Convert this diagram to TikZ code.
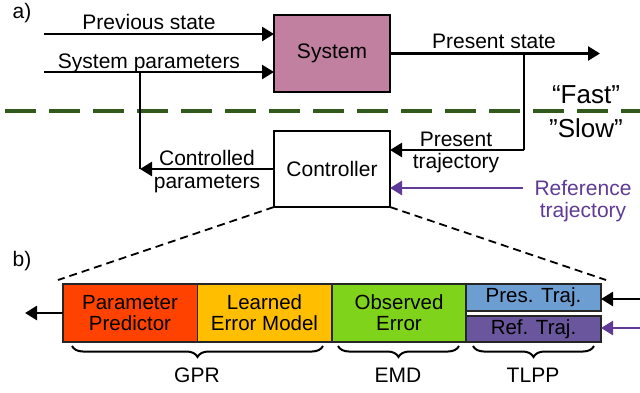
\documentclass[tikz,border=0pt]{standalone}
\usepackage{fontspec}
\setmainfont{Liberation Sans}
\usetikzlibrary{arrows.meta,decorations.pathreplacing}
\definecolor{sysc}{RGB}{193,128,160}
\definecolor{ppc}{RGB}{255,66,0}
\definecolor{lemc}{RGB}{255,190,0}
\definecolor{oec}{RGB}{127,211,27}
\definecolor{ptc}{RGB}{108,158,210}
\definecolor{rtc}{RGB}{106,86,156}
\definecolor{purp}{RGB}{95,58,150}
\definecolor{dgreen}{RGB}{50,90,28}
\begin{document}
\begin{tikzpicture}[x=1pt,y=-1pt,
  txt/.style={font=\fontsize{21}{23}\selectfont, inner sep=0pt},
  big/.style={font=\fontsize{26}{28}\selectfont, inner sep=0pt},
  arr/.style={line width=2.6pt, -{Triangle[length=12pt,width=14pt]}},
  ln/.style={line width=2.6pt},
  bigbox/.style={draw, line width=2.6pt, inner sep=0pt, outer sep=0pt, font=\fontsize{21}{23}\selectfont},
  cell/.style={draw=black!85, line width=1.5pt, inner sep=0pt, outer sep=0pt, align=center, font=\fontsize{20.5}{21}\selectfont},
  br/.style={line width=2pt, decorate, decoration={brace, amplitude=11pt, mirror}}
]
\useasboundingbox (0,0) rectangle (640,392);

% labels a) b)
\node[txt] (la) at (22,13) {a)};
\node[txt] (lb) at (22,261) {b)};

% main boxes
\node[bigbox, fill=sysc, minimum width=116pt, minimum height=77pt] (sys) at (332,53.5) {System};
\node[bigbox, fill=white, minimum width=116pt, minimum height=76pt] (ctrl) at (332,169) {Controller};

% fast/slow separator
\coordinate (gl) at (5,111);
\coordinate (gr) at (640,111);
\draw[dgreen, line width=4pt, dash pattern=on 31pt off 13pt] (gl) -- (gr);
\node[big, anchor=base] (fast) at (586,103) {“Fast”};
\node[big, anchor=base] (slow) at (586,137) {”Slow”};

% inputs to system
\coordinate (ps0) at (44,34);
\coordinate (sp0) at (44,72);
\draw[arr] (ps0) -- (sys.west |- ps0);
\draw[arr] (sp0) -- (sys.west |- sp0);
\node[txt, anchor=base] (tps) at (149,29) {Previous state};
\node[txt, anchor=base] (tsp) at (149,68) {System parameters};

% present state
\coordinate (psout) at (600,53.5);
\coordinate (pbr) at (524,53.5);
\coordinate (pdn) at (524,150);
\draw[arr] (sys.east) -- (psout);
\node[txt, anchor=base] (tpst) at (494,48) {Present state};
\draw[ln] (pbr) -- (pdn);
\draw[arr] (pdn) -- (ctrl.east |- pdn);
\node[txt, anchor=base] (tpt1) at (456,146) {Present};
\node[txt, anchor=base] (tpt2) at (456,168) {trajectory};

% reference trajectory
\coordinate (ref0) at (523,188);
\draw[arr, purp] (ref0) -- (ctrl.east |- ref0);
\node[txt, anchor=base, text=purp] (tr1) at (583,195) {Reference};
\node[txt, anchor=base, text=purp] (tr2) at (583,217) {trajectory};

% controlled parameters
\coordinate (cp) at (140,169);
\coordinate (cpup) at (140,72);
\draw[arr] (ctrl.west) -- (cp);
\draw[ln] (cpup) -- (cp);
\node[txt, anchor=base] (tcp1) at (207,165) {Controlled};
\node[txt, anchor=base] (tcp2) at (207,188) {parameters};

% zoom lines
\coordinate (zl) at (58,280);
\coordinate (zr) at (606,280);
\draw[line width=1.8pt, dash pattern=on 8pt off 5pt] (ctrl.south west) -- (zl);
\draw[line width=1.8pt, dash pattern=on 8pt off 5pt] (ctrl.south east) -- (zr);

% bottom cells
\node[cell, fill=ppc, minimum width=134.5pt, minimum height=58pt] (pp) at (130,313) {Parameter\\Predictor};
\node[cell, fill=lemc, minimum width=134.5pt, minimum height=58pt] (lem) at (264.5,313) {Learned\\Error Model};
\node[cell, fill=oec, minimum width=134pt, minimum height=58pt] (oe) at (399,313) {Observed\\Error};
\node[cell, fill=ptc, minimum width=135pt, minimum height=27pt] (pt) at (533.5,297.5) {Pres. Traj.};
\node[cell, fill=rtc, minimum width=135pt, minimum height=26pt] (rt) at (533.5,329) {Ref. Traj.};

% bottom arrows
\coordinate (outl) at (25,313);
\coordinate (inp) at (640,299);
\coordinate (inr) at (640,328);
\draw[arr] (pp.west) -- (outl);
\draw[arr] (inp) -- (pt.east |- inp);
\draw[arr, purp] (inr) -- (rt.east |- inr);

% braces
\coordinate (b1a) at (72,346);
\coordinate (b1b) at (323,346);
\coordinate (b2a) at (338,346);
\coordinate (b2b) at (459,346);
\coordinate (b3a) at (473,346);
\coordinate (b3b) at (594,346);
\draw[br] (b1a) -- (b1b);
\draw[br] (b2a) -- (b2b);
\draw[br] (b3a) -- (b3b);
\node[txt, anchor=base] (gpr) at (197,382) {GPR};
\node[txt, anchor=base] (emd) at (398,382) {EMD};
\node[txt, anchor=base] (tlpp) at (533,382) {TLPP};
\end{tikzpicture}
\end{document}
